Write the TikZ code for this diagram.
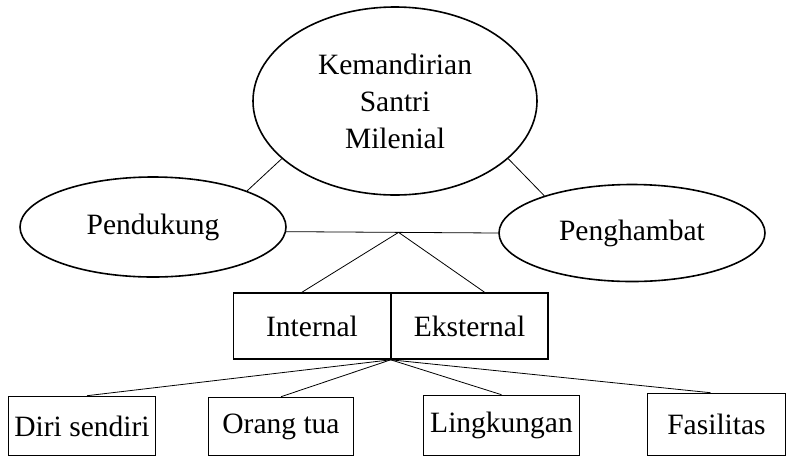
\documentclass[tikz,border=0pt]{standalone}
\usepackage{fontspec}
\setmainfont{Liberation Serif}
\usetikzlibrary{shapes.geometric,calc}
\begin{document}
\begin{tikzpicture}[x=1pt,y=-1pt,
  every node/.style={font=\fontsize{29.5}{37}\selectfont, inner sep=0pt, align=center},
  oval/.style={draw, ellipse, line width=1.6pt},
  boxnode/.style={draw, rectangle, line width=1.6pt},
  link/.style={line width=0.8pt}]
\useasboundingbox (0,0) rectangle (787,459);
\node[oval, minimum width=284pt, minimum height=188pt] (top) at (395,101) {Kemandirian\\Santri\\Milenial};
\node[oval, minimum width=266pt, minimum height=100pt] (pend) at (153,227) {Pendukung};
\node[oval, minimum width=266pt, minimum height=97pt] (peng) at (632,233) {Penghambat};
\node[boxnode, minimum width=157pt, minimum height=66pt] (int) at (312,326) {Internal};
\node[boxnode, minimum width=157pt, minimum height=66pt] (eks) at (469.5,326) {Eksternal};
\node[boxnode, minimum width=147pt, minimum height=59pt] (diri) at (82,426) {Diri sendiri};
\node[boxnode, minimum width=145pt, minimum height=58pt] (ortu) at (281,426.5) {Orang tua};
\node[boxnode, minimum width=156pt, minimum height=60pt] (ling) at (501.5,425.5) {Lingkungan};
\node[boxnode, minimum width=138pt, minimum height=62pt] (fas) at (716.5,424.5) {Fasilitas};
\draw[link] (top.207) -- (pend.21);
\draw[link] (top.333) -- (peng.157);
\draw[link] (pend.-2) -- coordinate[pos=0.53] (apex) (peng.west);
\draw[link] (apex) -- ([xshift=-10pt]int.north);
\draw[link] (apex) -- ([xshift=15pt]eks.north);
\coordinate (hub) at ($(int.south east)!0.5!(eks.south west)$);
\draw[link] (hub) -- ([xshift=5pt]diri.north);
\draw[link] (hub) -- (ortu.north);
\draw[link] (hub) -- (ling.north);
\draw[link] (hub) -- ([xshift=-6pt]fas.north);
\end{tikzpicture}
\end{document}
